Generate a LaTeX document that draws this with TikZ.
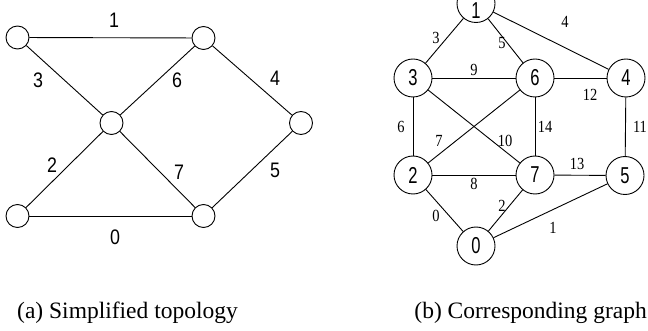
\documentclass[tikz,border=0pt]{standalone}
\usepackage{fontspec}
\setmainfont{Liberation Serif}
\newfontfamily\lblsans[FakeStretch=0.85]{Liberation Sans}
\newfontfamily\nodesans[FakeStretch=0.72]{Liberation Sans}
\newfontfamily\lblserif[FakeStretch=0.85]{Liberation Serif}
\begin{document}
\begin{tikzpicture}[x=1pt,y=-1pt,
  lnode/.style={circle,draw,line width=0.9pt,minimum size=23pt,inner sep=0pt},
  rnode/.style={circle,draw,line width=0.9pt,minimum size=38pt,inner sep=0pt,
    font=\nodesans\fontsize{23}{23}\selectfont},
  ledge/.style={line width=0.9pt},
  llab/.style={inner sep=0pt,font=\lblsans\fontsize{21}{21}\selectfont},
  rlab/.style={inner sep=0pt,font=\lblserif\fontsize{17}{17}\selectfont},
  captext/.style={inner sep=0pt,font=\fontsize{23.5}{23.5}\selectfont}]
\useasboundingbox (0,0) rectangle (648,331);
% left graph
\node[lnode] (tl) at (17.5,37.5) {};
\node[lnode] (tr) at (203.5,38) {};
\node[lnode] (c) at (111.5,123) {};
\node[lnode] (r) at (301,123) {};
\node[lnode] (bl) at (17.5,216) {};
\node[lnode] (br) at (203.5,216) {};
\draw[ledge] (tl) -- (tr);
\draw[ledge] (tl) -- (c);
\draw[ledge] (tr) -- (c);
\draw[ledge] (tr) -- (r);
\draw[ledge] (bl) -- (c);
\draw[ledge] (c) -- (br);
\draw[ledge] (r) -- (br);
\draw[ledge] (bl) -- (br);
\node[llab] (l1) at (114,20) {1};
\node[llab] (l3) at (38,80) {3};
\node[llab] (l6) at (177,80) {6};
\node[llab] (l4) at (275,78) {4};
\node[llab] (l2) at (52,165) {2};
\node[llab] (l7) at (179,172) {7};
\node[llab] (l5) at (275,170) {5};
\node[llab] (l0) at (115,237) {0};
% right graph
\node[rnode,text height=30pt,text depth=0pt] (n1) at (476,3.5) {1};
\node[rnode] (n3) at (413,78) {3};
\node[rnode] (n6) at (535,78) {6};
\node[rnode] (n4) at (626,78) {4};
\node[rnode] (n2) at (413,175) {2};
\node[rnode] (n7) at (535,175) {7};
\node[rnode] (n5) at (625,175.5) {5};
\node[rnode] (n0) at (476,246) {0};
\draw[ledge] (n1) -- (n3);
\draw[ledge] (n1) -- (n6);
\draw[ledge] (n1) -- (n4);
\draw[ledge] (n3) -- (n6);
\draw[ledge] (n6) -- (n4);
\draw[ledge] (n3) -- (n2);
\draw[ledge] (n6) -- (n7);
\draw[ledge] (n4) -- (n5);
\draw[ledge] (n3) -- (n7);
\draw[ledge] (n6) -- (n2);
\draw[ledge] (n2) -- (n7);
\draw[ledge] (n7) -- (n5);
\draw[ledge] (n2) -- (n0);
\draw[ledge] (n7) -- (n0);
\draw[ledge] (n5) -- (n0);
\node[rlab] (e3) at (436,38) {3};
\node[rlab] (e5) at (502,43) {5};
\node[rlab] (e4) at (565,22) {4};
\node[rlab] (e9) at (474,70) {9};
\node[rlab] (e12) at (590,95) {12};
\node[rlab] (e6) at (401,127) {6};
\node[rlab] (e14) at (545,127) {14};
\node[rlab] (e11) at (640,127) {11};
\node[rlab] (e7) at (439,141) {7};
\node[rlab] (e10) at (505,141) {10};
\node[rlab] (e13) at (577,164) {13};
\node[rlab] (e8) at (474,184) {8};
\node[rlab] (e0) at (436,216) {0};
\node[rlab] (e2) at (502,206) {2};
\node[rlab] (e1) at (553,228) {1};
% captions
\node[captext,anchor=base west] (capa) at (17,318) {(a) Simplified topology};
\node[captext,anchor=base east] (capb) at (647,318) {(b) Corresponding graph};
\end{tikzpicture}
\end{document}
